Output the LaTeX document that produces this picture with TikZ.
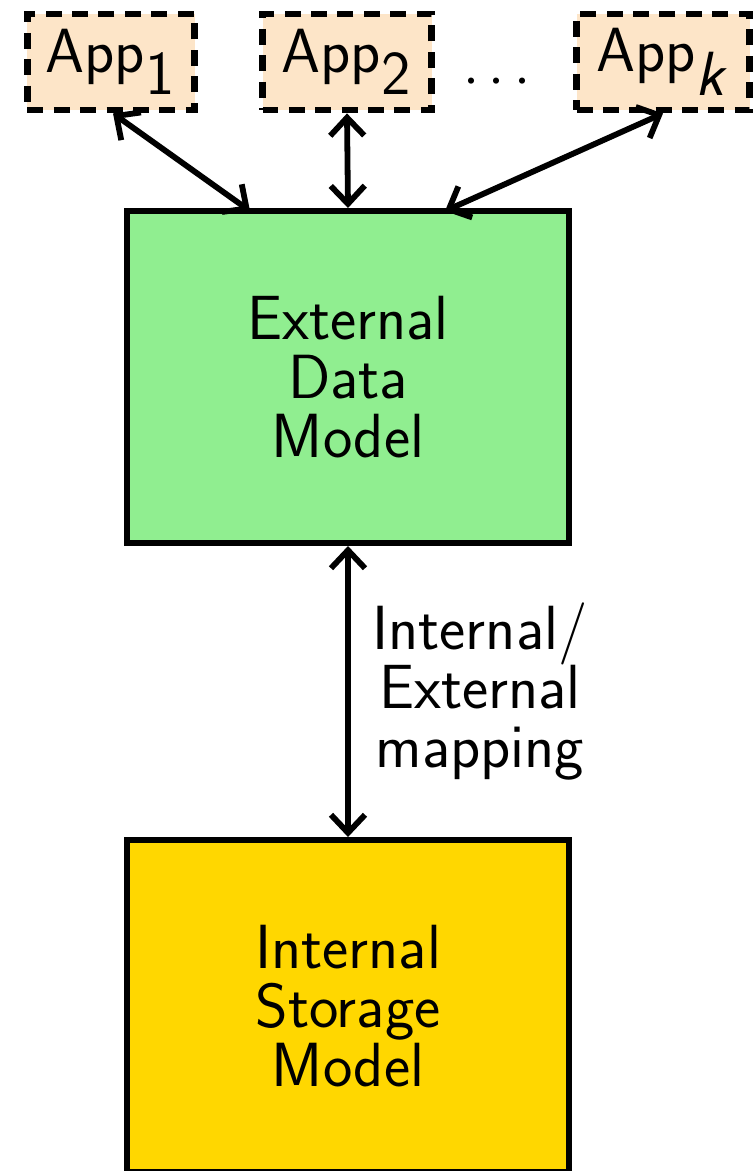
\documentclass[tikz,border=0pt]{standalone}
\usetikzlibrary{arrows.meta}
\definecolor{appfill}{HTML}{FDE5C8}
\definecolor{extfill}{HTML}{90EE90}
\definecolor{intfill}{HTML}{FFD700}
\begin{document}
\begin{tikzpicture}[x=0.25pt,y=-0.25pt,
  font=\sffamily\fontsize{15.6}{14.8}\selectfont,
  appbox/.style={draw, fill=appfill, line width=1.7pt, dash pattern=on 4pt off 2.6pt, minimum height=24pt, inner sep=0pt},
  bigbox/.style={draw, line width=1.5pt, minimum width=110.5pt, minimum height=83pt, align=center, inner sep=0pt},
  link/.style={line width=1.45pt, {Straight Barb[length=4.5pt,width=8.5pt]}-{Straight Barb[length=4.5pt,width=8.5pt]}}]
\clip (0,0) rectangle (753,1171);
\node[appbox, minimum width=41.75pt] (a1) at (111,62) {App$_{\textsf{1}}$};
\node[appbox, minimum width=42.25pt] (a2) at (347,62) {App$_{\textsf{2}}$};
\node[appbox, minimum width=43.25pt] (ak) at (663,62) {App$_{\textsf{\textit{k}}}$};
\node (dots) at (497,83) {$\cdots$};
\node[bigbox, fill=extfill] (ext) at (348,377) {External\\Data\\Model};
\node[bigbox, fill=intfill] (int) at (348,1006) {Internal\\Storage\\Model};
\coordinate (e1) at (250,211);
\coordinate (e3) at (445,211);
\draw[link] ([xshift=0.5pt]a1.south) -- (e1);
\draw[link] (a2.south) -- (ext.north);
\draw[link] (ak.south) -- (e3);
\draw[link] (ext.south) -- node[right=2pt, align=center] {Internal/\\External\\mapping} (int.north);
\end{tikzpicture}
\end{document}
